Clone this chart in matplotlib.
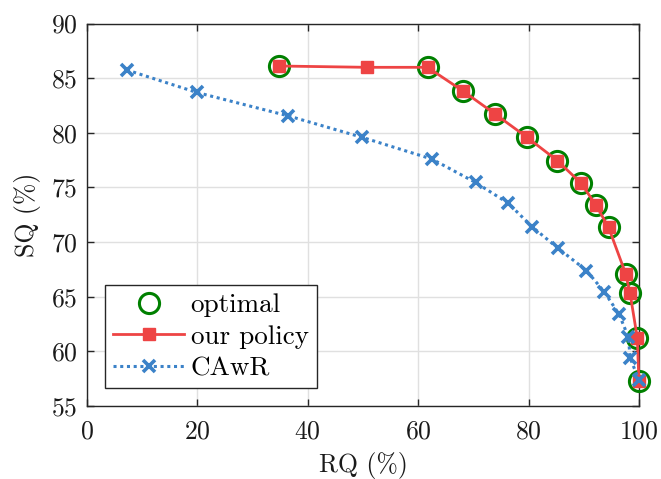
import matplotlib
matplotlib.use("Agg")
import matplotlib.pyplot as plt

plt.rcParams['font.family'] = 'serif'
plt.rcParams['font.serif'] = ['cmr10']
plt.rcParams['mathtext.fontset'] = 'cm'
plt.rcParams['axes.formatter.use_mathtext'] = True

# data
policy_rq = [34.8, 50.7, 61.7, 68.1, 73.9, 79.7, 85.2, 89.5, 92.2, 94.5, 97.6, 98.4, 99.7, 100.0]
policy_sq = [86.12, 86.0, 86.0, 83.84, 81.74, 79.6, 77.47, 75.4, 73.4, 71.35, 67.1, 65.3, 61.25, 57.3]
optimal_rq = [34.8, 61.7, 68.1, 73.9, 79.7, 85.2, 89.5, 92.2, 94.5, 97.6, 98.4, 99.7, 100.0]
optimal_sq = [86.12, 86.0, 83.84, 81.74, 79.6, 77.47, 75.4, 73.4, 71.35, 67.1, 65.3, 61.25, 57.3]
cawr_rq = [7.2, 19.9, 36.5, 49.8, 62.5, 70.4, 76.3, 80.7, 85.3, 90.5, 93.7, 96.4, 98.1, 98.4, 100.0]
cawr_sq = [85.76, 83.7, 81.55, 79.6, 77.6, 75.46, 73.57, 71.38, 69.46, 67.4, 65.46, 63.4, 61.3, 59.4, 57.4]

xticks = [0, 20, 40, 60, 80, 100]
yticks = [55, 60, 65, 70, 75, 80, 85, 90]

fig = plt.figure(figsize=(6.61, 4.79), dpi=100)
ax = fig.add_axes([0.1316, 0.1524, 0.835, 0.7983])

green = '#008000'
red = '#EE4444'
blue = '#3B82C8'

ax.plot(optimal_rq, optimal_sq, linestyle='none', marker='o', markersize=14.5,
        markerfacecolor='none', markeredgecolor=green, markeredgewidth=2.2,
        label='optimal', zorder=3, clip_on=False)
ax.plot(policy_rq, policy_sq, color=red, linewidth=2.0, marker='s', markersize=8.5,
        markerfacecolor=red, markeredgecolor=red, label='our policy', zorder=4, clip_on=False)
ax.plot(cawr_rq, cawr_sq, color=blue, linewidth=2.2, linestyle=(0, (1, 1.2)), marker='x',
        markersize=8.5, markeredgewidth=2.6, label='CAwR', zorder=5, clip_on=False)

ax.set_xlim(0, 100)
ax.set_ylim(55, 90)
ax.set_xticks(xticks)
ax.set_yticks(yticks)
ax.grid(True, color='#E0E0E0', linewidth=1.0)
ax.set_axisbelow(True)
for s in ax.spines.values():
    s.set_color('#262626')
    s.set_linewidth(1.0)
    s.set_zorder(2.5)
ax.tick_params(direction='in', length=5, width=1.0, colors='#262626',
               top=True, right=True, labelsize=18.5, labelcolor='#1a1a1a')
ax.tick_params(axis='x', pad=10)
ax.tick_params(axis='y', pad=7)

ax.set_xlabel('RQ (%)', fontsize=18.5, color='#1a1a1a', labelpad=6)
ax.set_ylabel('SQ (%)', fontsize=18.5, color='#1a1a1a', labelpad=7)

leg = ax.legend(loc='lower left', bbox_to_anchor=(0.033, 0.046), fontsize=19.5,
                frameon=True, fancybox=False, edgecolor='#262626', framealpha=1,
                handlelength=2.6, handletextpad=0.25, borderpad=0.3, labelspacing=0.28,
                borderaxespad=0)
leg.get_frame().set_linewidth(1.0)
leg.set_zorder(10)

fig.savefig('out.png', dpi=100)
